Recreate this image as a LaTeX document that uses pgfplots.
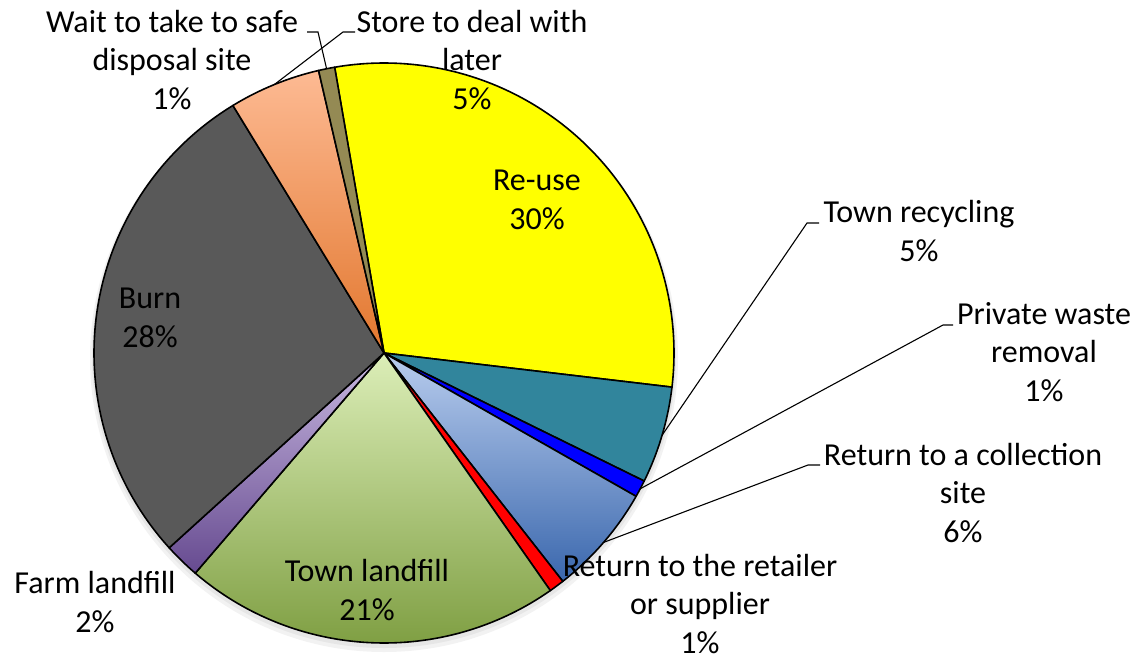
\documentclass[border=0pt]{standalone}
\usepackage{fontspec}
\setmainfont{Carlito}
\usepackage{pgfplots}
\usepackage{pgfplotstable}
\pgfplotsset{compat=1.18}

\definecolor{reuse}{HTML}{FFFF00}
\definecolor{townrec}{HTML}{31859C}
\definecolor{private}{HTML}{0000FF}
\definecolor{collA}{HTML}{B9CDEE}
\definecolor{collB}{HTML}{3A67AD}
\definecolor{retail}{HTML}{FF0000}
\definecolor{landA}{HTML}{DCEEB8}
\definecolor{landB}{HTML}{78993A}
\definecolor{farmA}{HTML}{C8B8E0}
\definecolor{farmB}{HTML}{664A90}
\definecolor{burn}{HTML}{595959}
\definecolor{storeA}{HTML}{FDBA93}
\definecolor{storeB}{HTML}{E2772E}
\definecolor{wait}{HTML}{948A54}

% share of answers, clockwise from Re-use
\pgfplotstableread[col sep=comma]{
name,value
Re-use,29.6
Town recycling,5.4
Private waste removal,0.95
Return to a collection site,6.2
Return to the retailer or supplier,0.85
Town landfill,21.0
Farm landfill,2.0
Burn,28.0
Store to deal with later,5.1
Wait to take to safe disposal site,0.9
}\piedata

\tikzset{
  slice0/.style={fill=reuse},
  slice1/.style={fill=townrec},
  slice2/.style={fill=private},
  slice3/.style={top color=collA,bottom color=collB},
  slice4/.style={fill=retail},
  slice5/.style={top color=landA,bottom color=landB},
  slice6/.style={top color=farmA,bottom color=farmB},
  slice7/.style={fill=burn},
  slice8/.style={top color=storeA,bottom color=storeB},
  slice9/.style={fill=wait},
  leader/.style={draw=black,line width=1.1pt},
  lab/.style={align=center,inner sep=0pt,font=\fontsize{32}{38.5}\selectfont},
}

\begin{document}
\begin{tikzpicture}
% slice angles from the table
\def\acc{99.8}
\pgfplotsforeachungrouped \i in {0,...,9}{%
  \pgfplotstablegetelem{\i}{value}\of\piedata
  \pgfmathsetmacro{\slicespan}{\pgfplotsretval*3.6}%
  \expandafter\xdef\csname sa\i\endcsname{\acc}%
  \pgfmathsetmacro{\slicemid}{\acc-\slicespan/2}%
  \expandafter\xdef\csname ma\i\endcsname{\slicemid}%
  \pgfmathsetmacro{\acc}{\acc-\slicespan}%
  \expandafter\xdef\csname ea\i\endcsname{\acc}%
}
\begin{axis}[
  scale only axis,width=1142pt,height=654pt,
  xmin=0,xmax=1142,ymin=0,ymax=654,y dir=reverse,
  hide axis,clip=false,
]
\path (axis cs:0,0) rectangle (axis cs:1142,654);
% soft shadow
\fill[black,opacity=0.05] (axis cs:384,358) circle[radius=294pt];
\fill[black,opacity=0.05] (axis cs:384,356) circle[radius=292pt];
\pgfplotsinvokeforeach{0,...,9}{
  \edef\tmp{\noexpand\draw[slice#1,draw=black,line width=1.6pt,line join=round]
    (axis cs:384,353) -- ++(\csname sa#1\endcsname:290pt)
    arc[start angle=\csname sa#1\endcsname,end angle=\csname ea#1\endcsname,radius=290pt] -- cycle;}
  \tmp
}
% leader lines
\edef\tmp{\noexpand\draw[leader] (axis cs:384,353) ++(\csname ma1\endcsname:290pt) -- (axis cs:807,223) -- (axis cs:819,223);}\tmp
\edef\tmp{\noexpand\draw[leader] (axis cs:384,353) ++(\csname ma2\endcsname:290pt) -- (axis cs:943,325) -- (axis cs:953,325);}\tmp
\edef\tmp{\noexpand\draw[leader] (axis cs:384,353) ++(\csname ma3\endcsname:290pt) -- (axis cs:808,465) -- (axis cs:820,465);}\tmp
\edef\tmp{\noexpand\draw[leader] (axis cs:384,353) ++(\csname ma8\endcsname:290pt) -- (axis cs:343,32) -- (axis cs:355,32);}\tmp
\edef\tmp{\noexpand\draw[leader] (axis cs:384,353) ++(\csname ma9\endcsname:290pt) -- (axis cs:318,32) -- (axis cs:307,32);}\tmp
% labels
\node[lab] at (axis cs:537,200) {Re-use\\30\%};
\node[lab] at (axis cs:150,318) {Burn\\28\%};
\node[lab] at (axis cs:367,590) {Town landfill\\21\%};
\node[lab] at (axis cs:95,602) {Farm landfill\\2\%};
\node[lab] at (axis cs:700,604) {Return to the retailer\\or supplier\\1\%};
\node[lab] at (axis cs:919,231) {Town recycling\\5\%};
\node[lab] at (axis cs:1044,352) {Private waste\\removal\\1\%};
\node[lab] at (axis cs:963,493) {Return to a collection\\site\\6\%};
\node[lab] at (axis cs:172,60) {Wait to take to safe\\disposal site\\1\%};
\node[lab] at (axis cs:472,60) {Store to deal with\\later\\5\%};
\end{axis}
\end{tikzpicture}
\end{document}
